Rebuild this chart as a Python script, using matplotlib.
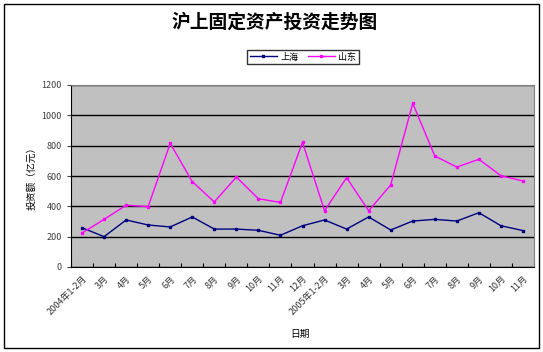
import matplotlib.pyplot as plt
import matplotlib.patches as mpatches
import numpy as np

plt.rcParams['font.family'] = ['Noto Sans CJK SC', 'DejaVu Sans']

# data
months = ['2004年1-2月', '3月', '4月', '5月', '6月', '7月', '8月', '9月', '10月', '11月', '12月',
          '2005年1-2月', '3月', '4月', '5月', '6月', '7月', '8月', '9月', '10月', '11月']
shanghai = [259, 200, 310, 277, 264, 330, 250, 250, 242, 209, 272,
            310, 250, 330, 244, 303, 314, 303, 358, 272, 240]
shandong = [224, 314, 407, 398, 815, 563, 429, 593, 450, 426, 822,
            371, 589, 371, 541, 1079, 732, 659, 710, 602, 567]

x = np.arange(len(months))

fig = plt.figure(figsize=(5.43, 3.52), dpi=100)
ax = fig.add_axes([71/543, 1-267/352, (534-71)/543, (267-85)/352])
ax.set_facecolor('#C0C0C0')

ax.plot(x, shanghai, color='#000080', lw=1, marker='s', ms=2, label='上海')
ax.plot(x, shandong, color='#FF00FF', lw=1, marker='s', ms=2, label='山东')

ax.set_ylim(0, 1200)
ax.set_yticks(np.arange(0, 1201, 200))
ax.yaxis.grid(True, color='black', lw=1)
ax.set_axisbelow(True)
ax.set_xlim(-0.5, len(months) - 0.5)

# ticks between categories, labels at centres
ax.set_xticks(np.arange(-0.5, len(months)), labels=[''] * (len(months) + 1))
ax.set_xticks(x, labels=months, minor=True)
ax.tick_params(axis='x', which='minor', length=0, labelsize=6.5, pad=5, labelcolor='#333333')
ax.tick_params(axis='x', which='major', length=3, direction='in')
ax.tick_params(axis='y', labelsize=6.5, length=3, colors='#404040')
for lab in ax.get_xticklabels(minor=True):
    lab.set_rotation(45)
    lab.set_ha('right')
    lab.set_rotation_mode('anchor')
for s in ['top', 'right']:
    ax.spines[s].set_color('#808080')

ax.set_ylabel('投资额（亿元）', fontsize=7)
fig.text(300/543, 1-334/352, '日期', fontsize=7, ha='center', va='center')
fig.text(275/543, 1-22/352, '沪上固定资产投资走势图', fontsize=13.5, fontweight='bold',
         ha='center', va='center')

fig.legend(loc='center', bbox_to_anchor=(303/543, 1-57/352), ncol=2, fontsize=6.5,
           frameon=True, fancybox=False, edgecolor='black', handlelength=3,
           borderpad=0.3, columnspacing=1.0, handletextpad=0.4)

fig.patches.append(mpatches.Rectangle((4/543, 4/352), 535/543, 344/352, fill=False,
                                      edgecolor='black', lw=1, transform=fig.transFigure))

fig.savefig('out.png', dpi=100)
